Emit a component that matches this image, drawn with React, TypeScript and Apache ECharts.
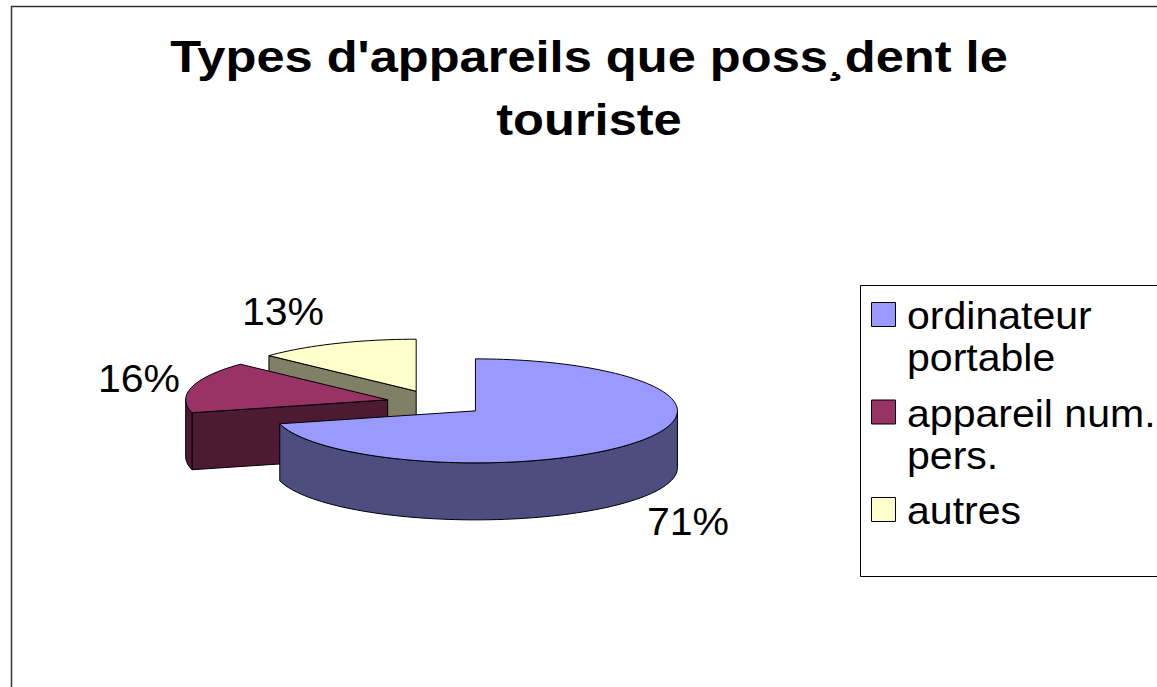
import React, { useEffect, useRef } from "react";
import * as echarts from "echarts";

const chartTitle = "Types d'appareils que poss¸dent le\ntouriste";
const categories = ["ordinateur portable", "appareil num. pers.", "autres"];
const values = [71, 16, 13];
const topColors = ["#9999FF", "#993366", "#FFFFCC"];
const sideColors = ["#4D4D80", "#4D1A33", "#808066"];

// 3D pie geometry (layout)
const CX = 436;
const CY = 403;
const RX = 202;
const RY = 52;
const DEPTH = 57;
const EXPLODE = 0.247;
const FONT = "'Liberation Sans', Arial, Helvetica, sans-serif";
const LEGEND_CHARS = 13;

const rad = (d: number) => (d * Math.PI) / 180;
const clamp = (v: number) => Math.max(-1, Math.min(1, v));

const wrap = (s: string, max: number) => {
  const lines: string[] = [];
  let cur = "";
  s.split(" ").forEach((w) => {
    if (!cur) cur = w;
    else if ((cur + " " + w).length <= max) cur += " " + w;
    else {
      lines.push(cur);
      cur = w;
    }
  });
  if (cur) lines.push(cur);
  return lines.join("\n");
};

export default function App() {
  const ref = useRef<HTMLDivElement>(null);
  useEffect(() => {
    if (!ref.current) return;
    const chart = echarts.init(ref.current, null, { renderer: "svg" });
    const total = values.reduce((a, b) => a + b, 0);
    const starts: number[] = [];
    let acc = 0;
    values.forEach((v) => {
      starts.push(90 - (360 * acc) / total);
      acc += v;
    });
    const offsets = values.map((v, i) => {
      const mid = starts[i] - (180 * v) / total;
      return { x: EXPLODE * RX * Math.cos(rad(mid)), y: -EXPLODE * RY * Math.sin(rad(mid)) };
    });
    const order = values.map((_, i) => i).sort((a, b) => offsets[a].y - offsets[b].y);
    const rank = values.map((_, i) => order.indexOf(i));

    const renderItem = (params: any, api: any) => {
      const i = params.dataIndex;
      const v = api.value(0);
      const b = starts[i];
      const a = b - (360 * v) / total;
      const mid = (a + b) / 2;
      const ox = offsets[i].x;
      const oy = offsets[i].y;
      const P = (deg: number, r: number, bottom: boolean) => [
        CX + ox + r * RX * Math.cos(rad(deg)),
        CY + oy - r * RY * Math.sin(rad(deg)) + (bottom ? DEPTH : 0),
      ];
      const arc = (from: number, to: number, bottom: boolean) => {
        const n = Math.max(2, Math.ceil(Math.abs(to - from) / 2));
        const pts: number[][] = [];
        for (let k = 0; k <= n; k++) pts.push(P(from + ((to - from) * k) / n, 1, bottom));
        return pts;
      };
      const base = rank[i] * 10;
      const lineStyle = { stroke: "#000", lineWidth: 1, lineJoin: "round" };
      const children: any[] = [];
      // radial cut faces
      const cutFace = (deg: number) => ({
        type: "polygon",
        z2: base + 1,
        shape: { points: [P(deg, 0, false), P(deg, 1, false), P(deg, 1, true), P(deg, 0, true)] },
        style: { fill: sideColors[i], ...lineStyle },
      });
      if (Math.cos(rad(a)) > 0.001) children.push(cutFace(a));
      if (Math.cos(rad(b)) < -0.001) children.push(cutFace(b));
      // front outer wall
      for (let k = -2; k <= 1; k++) {
        const lo = Math.max(a, -180 + 360 * k);
        const hi = Math.min(b, 360 * k);
        if (hi - lo > 0.01) {
          const pts = arc(lo, hi, false).concat(arc(hi, lo, true));
          children.push({
            type: "polygon",
            z2: base + 2,
            shape: { points: pts },
            style: { fill: sideColors[i], ...lineStyle },
          });
        }
      }
      // top face
      children.push({
        type: "polygon",
        z2: base + 3,
        shape: { points: [P(a, 0, false)].concat(arc(a, b, false)) },
        style: { fill: topColors[i], ...lineStyle },
      });
      // label
      const s = Math.sin(rad(mid));
      const c = Math.cos(rad(mid));
      const rim = P(mid, 1, s < 0);
      children.push({
        type: "text",
        z2: 100,
        x: rim[0] + clamp(3 * c) * 53,
        y: rim[1] - clamp(1.1 * s) * 32,
        scaleX: 1.08,
        style: {
          text: Math.round((v / total) * 100) + "%",
          font: `38px ${FONT}`,
          fill: "#000",
          align: "center",
          verticalAlign: "middle",
        },
      });
      return { type: "group", children };
    };

    const legendItems: any[] = [];
    categories.forEach((name, i) => {
      const top = 302 + i * 97.5;
      legendItems.push({
        type: "rect",
        shape: { x: 871.5, y: top + 0.5, width: 24, height: 24 },
        style: { fill: topColors[i], stroke: "#000", lineWidth: 1 },
      });
      legendItems.push({
        type: "text",
        x: 907,
        y: top - 7,
        scaleX: 1.08,
        style: {
          text: wrap(name, LEGEND_CHARS),
          font: `38px ${FONT}`,
          fill: "#000",
          lineHeight: 42,
          verticalAlign: "top",
        },
      });
    });

    chart.setOption({
      animation: false,
      backgroundColor: "#fff",
      graphic: [
        {
          type: "rect",
          shape: { x: 11.5, y: 6.5, width: 1300, height: 900 },
          style: { fill: "none", stroke: "#333", lineWidth: 1.5 },
          silent: true,
        },
        {
          type: "rect",
          shape: { x: 860.5, y: 285.5, width: 400, height: 291 },
          style: { fill: "#fff", stroke: "#000", lineWidth: 1 },
        },
        ...legendItems,
        {
          type: "text",
          x: 589,
          y: 25,
          scaleX: 1.15,
          style: {
            text: chartTitle,
            font: `bold 44px ${FONT}`,
            fill: "#000",
            align: "center",
            lineHeight: 63,
          },
        },
      ],
      series: [
        {
          type: "custom",
          coordinateSystem: "none",
          renderItem,
          data: values.map((v, i) => ({ value: [v], name: categories[i] })),
          silent: true,
        },
      ],
    });
    return () => chart.dispose();
  }, []);
  return (
    <div
      ref={ref}
      style={{ position: "fixed", left: 0, top: 0, width: 1157, height: 687 }}
    />
  );
}
